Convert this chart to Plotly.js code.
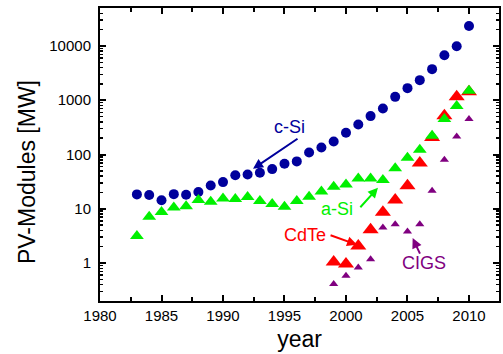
<!DOCTYPE html>
<html>
<head>
<meta charset="utf-8">
<script src="https://cdn.plot.ly/plotly-3.0.1.min.js"></script>
<style>html,body{margin:0;padding:0;background:#fff;}#chart{width:503px;height:354px;}</style>
</head>
<body>
<div id="chart"></div>
<script>
var cSiYears = [1983,1984,1985,1986,1987,1988,1989,1990,1991,1992,1993,1994,1995,1996,1997,1998,1999,2000,2001,2002,2003,2004,2005,2006,2007,2008,2009,2010];
var cSiValues = [18.4,17.9,14.3,18.6,18.1,20.3,26.9,31,41.5,42.7,46,53.8,67.4,74.6,109,135,174,251,358,510,706,1155,1670,2345,3740,6760,9900,23400];

var aSiYears = [1983,1984,1985,1986,1987,1988,1989,1990,1991,1992,1993,1994,1995,1996,1997,1998,1999,2000,2001,2002,2003,2004,2005,2006,2007,2008,2009,2010];
var aSiValues = [3.14,7.1,8.7,10.6,11.1,14.5,13.5,15.5,15.1,16.4,13.9,12.2,10.9,13.9,16.6,20.9,25.4,28.1,36.3,36.3,33.8,56,87,122,221,449,780,1490];

var cdTeYears = [1999,2000,2001,2002,2003,2004,2005,2006,2007,2008,2009,2010];
var cdTeValues = [1.04,0.96,2.06,4.1,8.6,14.5,26.5,70,205,516,1155,1430];

var cigsYears = [1999,2000,2001,2002,2003,2004,2005,2006,2007,2008,2009,2010];
var cigsValues = [0.41,0.58,0.83,1.17,4.5,5.2,3.8,5.2,21.4,80,215,449];

var xTickStep = 5;
var FONT = 'Arial, "Liberation Sans", sans-serif';

var traces = [
  {x: cSiYears, y: cSiValues, name: 'c-Si', mode: 'markers', type: 'scatter',
   marker: {symbol: 'circle', size: 10, color: '#00009c'}},
  {x: cdTeYears, y: cdTeValues, name: 'CdTe', mode: 'markers', type: 'scatter',
   marker: {symbol: 'triangle-up', size: 14, color: '#ff0000'}},
  {x: aSiYears, y: aSiValues, name: 'a-Si', mode: 'markers', type: 'scatter',
   marker: {symbol: 'triangle-up', size: 12, color: '#00f000'}},
  {x: cigsYears, y: cigsValues, name: 'CIGS', mode: 'markers', type: 'scatter',
   marker: {symbol: 'triangle-up', size: 8, color: '#800080'}}
];

function arrow(x, y, ax, ay, color) {
  return {x: x, y: y, xref: 'x', yref: 'y', ax: ax, ay: ay, text: '', showarrow: true,
          arrowhead: 2, arrowsize: 1, arrowwidth: 2, arrowcolor: color, standoff: 0};
}
function label(x, y, text, color) {
  return {x: x, y: y, xref: 'x', yref: 'y', text: text, showarrow: false,
          font: {family: FONT, size: 18, color: color}};
}

var layout = {
  width: 503, height: 354,
  margin: {l: 100, r: 4, t: 8, b: 53},
  paper_bgcolor: '#fff', plot_bgcolor: '#fff',
  showlegend: false,
  font: {family: FONT, size: 15, color: '#000'},
  xaxis: {
    range: [1980, 2012.44], dtick: xTickStep, tick0: 1980,
    showgrid: false, zeroline: false, showline: true, linewidth: 2, linecolor: 'black',
    mirror: 'allticks', ticks: 'inside', ticklen: 6, tickwidth: 2, tickcolor: 'black',
    minor: {dtick: xTickStep / 2, ticks: 'inside', ticklen: 4, tickwidth: 2, tickcolor: 'black', showgrid: false},
    tickfont: {family: FONT, size: 15, color: '#000'},
    title: {text: 'year', font: {family: FONT, size: 23, color: '#000'}, standoff: 8}
  },
  yaxis: {
    type: 'log', range: [-0.7, 4.7], dtick: 1, tickformat: 'd',
    showgrid: false, zeroline: false, showline: true, linewidth: 2, linecolor: 'black',
    mirror: 'allticks', ticks: 'inside', ticklen: 6, tickwidth: 2, tickcolor: 'black',
    minor: {dtick: 'D1', ticks: 'inside', ticklen: 3, tickwidth: 1.5, tickcolor: 'black', showgrid: false},
    tickfont: {family: FONT, size: 15, color: '#000'},
    ticklabelstandoff: 4
  },
  annotations: [
    {xref: 'paper', yref: 'paper', x: -0.183, y: 0.44, xanchor: 'center', yanchor: 'middle',
     text: 'PV-Modules [MW]', textangle: -90,
     showarrow: false, font: {family: FONT, size: 23, color: '#000'}},
    label(1995.4, 2.51, 'c-Si', '#00009c'),
    arrow(1992.44, 1.737, 46, -31, '#00009c'),
    label(1999.27, 1.0, 'a-Si', '#00f000'),
    arrow(2002.6, 1.387, -19, 21, '#00f000'),
    label(1996.7, 0.521, 'CdTe', '#ff0000'),
    arrow(2000.9, 0.337, -28, -10, '#ff0000'),
    label(2006.37, 0.005, 'CIGS', '#800080'),
    arrow(2005.42, 0.46, 8, 17, '#800080')
  ]
};

Plotly.newPlot('chart', traces, layout, {displayModeBar: false, staticPlot: true});
</script>
</body>
</html>
